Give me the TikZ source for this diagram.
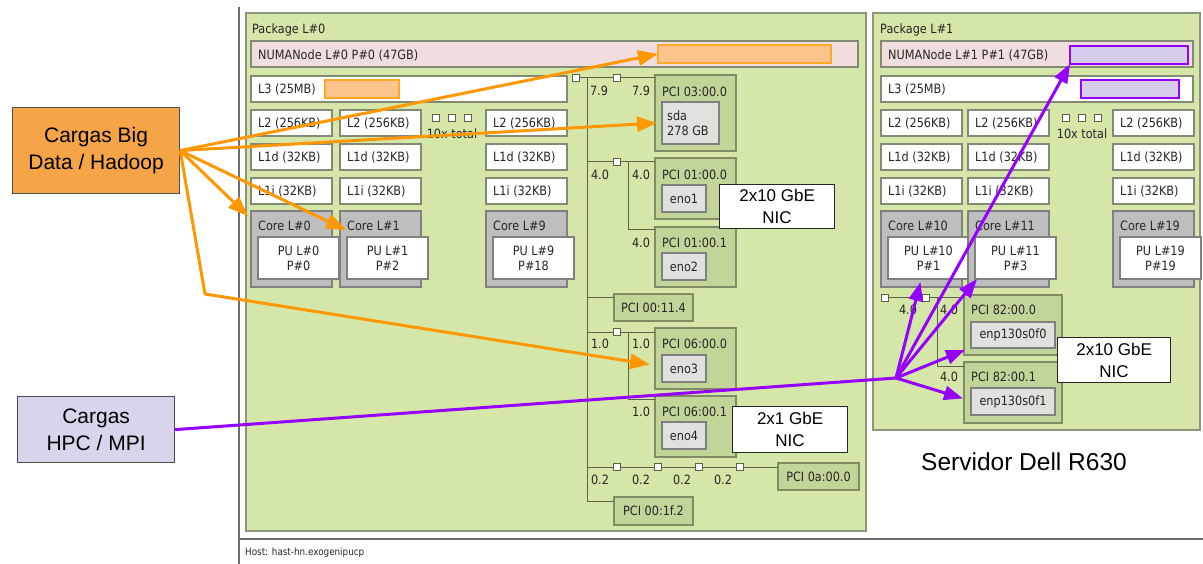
\documentclass[tikz,border=0pt]{standalone}
\usepackage{fontspec}
\setmainfont{Liberation Sans}
\newfontfamily\hwfont[FakeStretch=0.88]{DejaVu Sans}
\usetikzlibrary{arrows.meta,calc}

\definecolor{pkgfill}{RGB}{212,231,168}
\definecolor{pkgline}{RGB}{140,150,120}
\definecolor{numafill}{RGB}{240,222,222}
\definecolor{boxline}{RGB}{130,138,118}
\definecolor{corefill}{RGB}{190,190,190}
\definecolor{coreline}{RGB}{128,128,128}
\definecolor{pcifill}{RGB}{194,213,153}
\definecolor{pciline}{RGB}{128,140,100}
\definecolor{osfill}{RGB}{224,224,222}
\definecolor{treeline}{RGB}{90,100,70}
\definecolor{orangeA}{RGB}{255,152,0}
\definecolor{orangehl}{RGB}{250,196,140}
\definecolor{purpleA}{RGB}{150,0,255}
\definecolor{purplehl}{RGB}{214,204,238}
\definecolor{bigdatafill}{RGB}{245,164,72}
\definecolor{hpcfill}{RGB}{216,212,236}
\definecolor{winline}{RGB}{110,110,110}

\newcommand\hwsize{\fontsize{12.8}{15}\hwfont}
% rectangle node given by its top-left and bottom-right corners (pixels, y down)
\newcommand\hwbox[6]{\node[#2, anchor=north west, inner sep=0pt, outer sep=0pt,
  minimum width={(#5-#3)*1pt}, minimum height={(#6-#4)*1pt}] (#1) at (#3,#4) {};}

\begin{document}
\begin{tikzpicture}[x=1pt,y=-1pt,
  pkg/.style={draw=pkgline, fill=pkgfill, line width=1.2pt},
  numa/.style={draw=boxline, fill=numafill, line width=1.2pt},
  cache/.style={draw=boxline, fill=white, line width=1.2pt},
  core/.style={draw=coreline, fill=corefill, line width=1.2pt},
  pu/.style={draw=coreline, fill=white, line width=1.2pt},
  pci/.style={draw=pciline, fill=pcifill, line width=1.2pt},
  osdev/.style={draw=coreline, fill=osfill, line width=1.2pt},
  hlo/.style={draw=orangeA!85, fill=orangehl, line width=2pt},
  hlp/.style={draw=purpleA, fill=purplehl, line width=2.6pt},
  sq/.style={draw=treeline, fill=white, line width=0.9pt, minimum size=7pt, inner sep=0pt},
  tree/.style={draw=treeline, line width=1pt},
  hwt/.style={font=\hwsize, text=black!85, inner sep=0pt},
  nic/.style={draw=black!85, fill=white, line width=1.2pt, align=center,
    font=\fontsize{17}{22}\selectfont},
  load/.style={draw=black!70, line width=1.2pt, align=center,
    font=\fontsize{21}{26.5}\selectfont},
  oarr/.style={draw=orangeA, line width=3pt, line join=round,
    -{Triangle[length=20pt,width=15pt]}},
  parr/.style={draw=purpleA, line width=3pt, -{Triangle[length=19pt,width=14pt]}},
  pline/.style={draw=purpleA, line width=3pt},
  win/.style={draw=winline, line width=1.2pt}]
\useasboundingbox (0,0) rectangle (1203,564);
\fill[white] (0,0) rectangle (1203,564);

% window frame and host line
\draw[win] (239,7) -- (239,564);
\draw[win] (239,539) -- (1203,539);
\node[font=\fontsize{10}{12}\hwfont, text=black!85, anchor=west, inner sep=0pt] (host) at (245,553) {Host: hast-hn.exogenipucp};

% ---------- Package L#0 ----------
\hwbox{pkg0}{pkg}{246}{13}{866}{531}
\node[hwt, anchor=west] (pkg0-t) at (252,30) {Package L\#0};
\hwbox{numa0}{numa}{251}{41}{858}{67}
\node[hwt, anchor=west] (numa0-t) at (258,55) {NUMANode L\#0 P\#0 (47GB)};
\hwbox{numahl0}{hlo}{658}{45}{831}{63}
\hwbox{l3a}{cache}{251}{76}{567}{102}
\node[hwt, anchor=west] (l3a-t) at (258,89) {L3 (25MB)};
\hwbox{l3hl0}{hlo}{325}{80}{399}{98}

% ---------- Package L#1 ----------
\hwbox{pkg1}{pkg}{873}{13}{1200}{430}
\node[hwt, anchor=west] (pkg1-t) at (880,30) {Package L\#1};
\hwbox{numa1}{numa}{881}{41}{1193}{67}
\node[hwt, anchor=west] (numa1-t) at (888,55) {NUMANode L\#1 P\#1 (47GB)};
\hwbox{numahl1}{hlp}{1070}{46}{1188}{64}
\hwbox{l3b}{cache}{881}{76}{1193}{102}
\node[hwt, anchor=west] (l3b-t) at (888,89) {L3 (25MB)};
\hwbox{l3hl1}{hlp}{1081}{80}{1179}{98}

% caches, cores and PUs of both packages
\foreach \n/\x/\c/\p in {a0/251/0/0,a1/340/1/2,a2/486/9/18,b0/881/10/1,b1/968/11/3,b2/1113/19/19}{
  \hwbox{l2\n}{cache}{\x}{110}{\x+81}{136}
  \node[hwt, anchor=west] (l2\n-t) at (\x+7,123) {L2 (256KB)};
  \hwbox{l1d\n}{cache}{\x}{144}{\x+81}{170}
  \node[hwt, anchor=west] (l1d\n-t) at (\x+7,157) {L1d (32KB)};
  \hwbox{l1i\n}{cache}{\x}{178}{\x+81}{204}
  \node[hwt, anchor=west] (l1i\n-t) at (\x+7,191) {L1i (32KB)};
  \hwbox{core\n}{core}{\x}{211}{\x+81}{287}
  \node[hwt, anchor=west] (core\n-t) at (\x+7,226) {Core L\#\c};
  \hwbox{pu\n}{pu}{\x+7}{237}{\x+74}{279}
  \node[hwt, align=center] (pu\n-t) at (pu\n) {PU L\#\c\\P\#\p};
}
% "10x total" markers
\foreach \n/\x in {a/452,b/1082}{
  \node[sq] (dots\n1) at (\x-16,118) {};
  \node[sq] (dots\n2) at (\x,118) {};
  \node[sq] (dots\n3) at (\x+16,118) {};
  \node[hwt] (dots\n-t) at (\x,134) {10x total};
}

% ---------- PCI tree of package L#0 ----------
\hwbox{pci03}{pci}{655}{75}{736}{151}
\node[hwt, anchor=west] (pci03-t) at (662,92) {PCI 03:00.0};
\hwbox{sda}{osdev}{662}{102}{719}{144}
\node[hwt, align=left, anchor=west] (sda-t) at (667,123) {sda\\278 GB};
\hwbox{pci010}{pci}{655}{158}{736}{219}
\node[hwt, anchor=west] (pci010-t) at (662,175) {PCI 01:00.0};
\hwbox{eno1}{osdev}{662}{185}{706}{212}
\node[hwt] (eno1-t) at (eno1) {eno1};
\hwbox{pci011}{pci}{655}{227}{736}{287}
\node[hwt, anchor=west] (pci011-t) at (662,243) {PCI 01:00.1};
\hwbox{eno2}{osdev}{662}{253}{706}{280}
\node[hwt] (eno2-t) at (eno2) {eno2};
\hwbox{pci114}{pci}{614}{294}{693}{321}
\node[hwt] (pci114-t) at (pci114) {PCI 00:11.4};
\hwbox{pci060}{pci}{655}{328}{736}{389}
\node[hwt, anchor=west] (pci060-t) at (662,344) {PCI 06:00.0};
\hwbox{eno3}{osdev}{662}{355}{706}{382}
\node[hwt] (eno3-t) at (eno3) {eno3};
\hwbox{pci061}{pci}{655}{396}{736}{457}
\node[hwt, anchor=west] (pci061-t) at (662,412) {PCI 06:00.1};
\hwbox{eno4}{osdev}{662}{422}{706}{449}
\node[hwt] (eno4-t) at (eno4) {eno4};
\hwbox{pci0a}{pci}{778}{463}{859}{490}
\node[hwt] (pci0a-t) at (pci0a) {PCI 0a:00.0};
\hwbox{pci1f}{pci}{614}{497}{693}{525}
\node[hwt] (pci1f-t) at (pci1f) {PCI 00:1f.2};

\coordinate (trunk) at (587,78);
\coordinate (fork1) at (628,162);
\coordinate (fork2) at (628,332);
\draw[tree] (576,78) -- ($(pci03.north west)+(0,3)$);
\draw[tree] (trunk) |- ($(pci1f.north west)+(0,4)$);
\draw[tree] (trunk |- fork1) -- ($(pci010.north west)+(0,4)$);
\draw[tree] (fork1) |- ($(pci011.north west)+(0,3)$);
\draw[tree] (trunk |- pci114.north) ++(0,4) -- ($(pci114.north west)+(0,4)$);
\draw[tree] (trunk |- fork2) -- ($(pci060.north west)+(0,4)$);
\draw[tree] (fork2) |- ($(pci061.north west)+(0,3)$);
\draw[tree] (trunk |- pci0a.north) ++(0,4) -- ($(pci0a.north west)+(0,4)$);
\node[sq] (sq0) at (576,78) {};
\node[sq] (sq1) at (617,78) {};
\node[sq] (sq2) at (617,162) {};
\node[sq] (sq3) at (617,332) {};
\foreach \i/\x in {4/617,5/658,6/699,7/740}{\node[sq] (sq\i) at (\x,467) {};}
\node[hwt] (bw1) at (599,91) {7.9};
\node[hwt] (bw2) at (641,91) {7.9};
\node[hwt] (bw3) at (600,175) {4.0};
\node[hwt] (bw4) at (641,175) {4.0};
\node[hwt] (bw5) at (641,243) {4.0};
\node[hwt] (bw6) at (600,344) {1.0};
\node[hwt] (bw7) at (641,344) {1.0};
\node[hwt] (bw8) at (641,412) {1.0};
\foreach \i/\x in {9/600,10/641,11/682,12/723}{\node[hwt] (bw\i) at (\x,480) {0.2};}

% ---------- PCI tree of package L#1 ----------
\hwbox{pci820}{pci}{964}{295}{1062}{355}
\node[hwt, anchor=west] (pci820-t) at (971,310) {PCI 82:00.0};
\hwbox{enp0}{osdev}{971}{322}{1055}{348}
\node[hwt] (enp0-t) at (enp0) {enp130s0f0};
\hwbox{pci821}{pci}{964}{362}{1062}{423}
\node[hwt, anchor=west] (pci821-t) at (971,377) {PCI 82:00.1};
\hwbox{enp1}{osdev}{971}{388}{1055}{415}
\node[hwt] (enp1-t) at (enp1) {enp130s0f1};
\coordinate (fork3) at (937,298);
\draw[tree] (885,298) -- ($(pci820.north west)+(0,3)$);
\draw[tree] (fork3) |- ($(pci821.north west)+(0,4)$);
\node[sq] (sq8) at (885,298) {};
\node[sq] (sq9) at (926,298) {};
\node[hwt] (bw13) at (908,310) {4.0};
\node[hwt] (bw14) at (949,310) {4.0};
\node[hwt] (bw15) at (949,377) {4.0};

% ---------- workloads ----------
\node[load, fill=bigdatafill, anchor=north west, minimum width=167pt, minimum height=86pt, inner sep=0pt] (bigdata) at (12,107) {Cargas Big\\Data / Hadoop};
\node[load, fill=hpcfill, anchor=north west, minimum width=157pt, minimum height=66pt, inner sep=0pt] (hpc) at (17,396) {Cargas\\HPC / MPI};

\coordinate (bend) at (205,294);
\coordinate (hub) at (896,378);

\draw[oarr] (bigdata.east) -- (numahl0.west);
\draw[oarr] (bigdata.east) -- ($(sda.west)+(-5,0)$);
\draw[oarr] (bigdata.east) -- ($(corea0.north west)+(-3,5)$);
\draw[oarr] (bigdata.east) -- ($(corea1.north west)+(6,19)$);
\draw[oarr] (bigdata.east) -- (bend) -- ($(eno3.west)+(-12,-4)$);

\draw[pline] (hpc.east) -- (hub);
\draw[parr] (hub) -- (numahl1.south west);
\draw[parr] (hub) -- ($(pub0.south)+(-8,3)$);
\draw[parr] (hub) -- ($(pub1.south west)+(2,0)$);
\draw[parr] (hub) -- ($(enp0.south west)+(-6,2)$);
\draw[parr] (hub) -- ($(enp1.west)+(-8,-3)$);

% ---------- NIC callouts ----------
\node[nic, anchor=north west, minimum width=115pt, minimum height=44pt, inner sep=0pt] (nic1) at (719,184) {2x10 GbE\\NIC};
\node[nic, anchor=north west, minimum width=115pt, minimum height=46pt, inner sep=0pt] (nic2) at (732,406) {2x1 GbE\\NIC};
\node[nic, anchor=north west, minimum width=113pt, minimum height=45pt, inner sep=0pt] (nic3) at (1057,337) {2x10 GbE\\NIC};

\node[font=\fontsize{24.5}{28}\selectfont, inner sep=0pt] (server) at (1024,462) {Servidor Dell R630};
\end{tikzpicture}
\end{document}
